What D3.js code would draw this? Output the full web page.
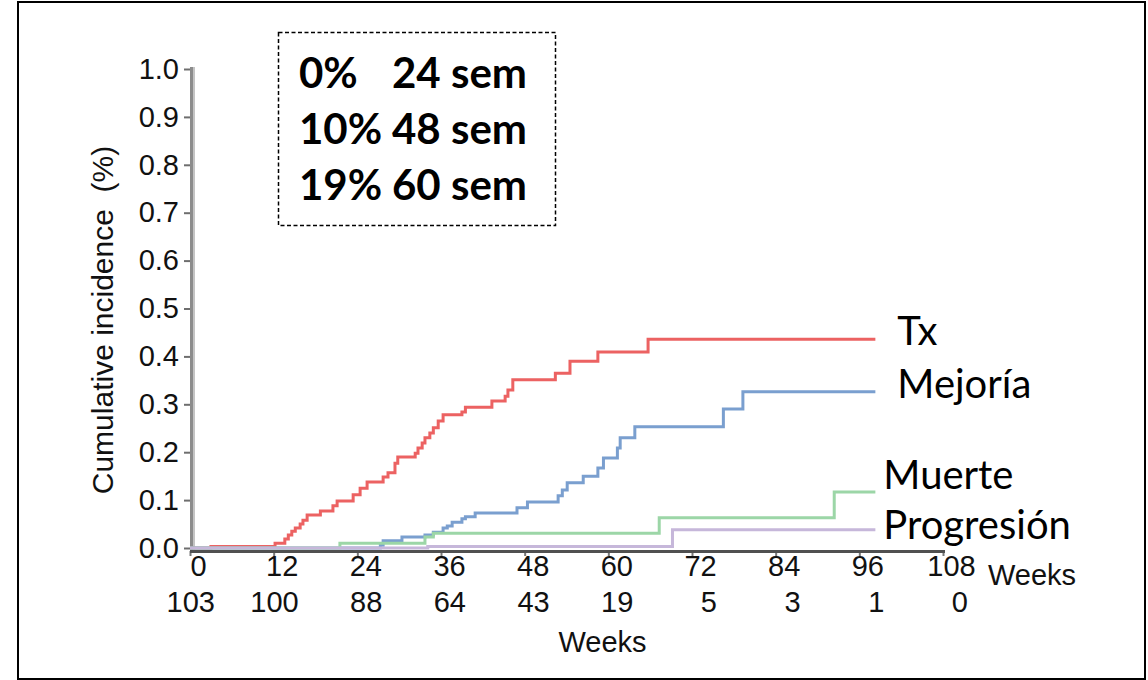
<!DOCTYPE html>
<html>
<head>
<meta charset="utf-8">
<script src="https://cdn.jsdelivr.net/npm/d3@7"></script>
<style>
  html, body { margin: 0; padding: 0; background: #fff; }
  svg { display: block; }
</style>
</head>
<body>
<svg id="chart" width="1148" height="680"></svg>
<script>
// Weeks on the x axis and patients still at risk under each tick
const weekTicks = [0, 12, 24, 36, 48, 60, 72, 84, 96, 108];
const atRisk = [103, 100, 88, 64, 43, 19, 5, 3, 1, 0];
const incidenceTicks = [0, 0.1, 0.2, 0.3, 0.4, 0.5, 0.6, 0.7, 0.8, 0.9, 1.0];

// Cumulative incidence step curves: [week, incidence]
const txSteps = [
  [0, 0], [3, 0.003], [12.2, 0.010], [13.6, 0.019], [14.1, 0.027], [14.6, 0.035],
  [15.1, 0.042], [15.8, 0.050], [16.2, 0.058], [16.8, 0.069], [18.7, 0.077],
  [20.5, 0.088], [21.1, 0.098], [23.4, 0.111], [24.4, 0.125], [25.4, 0.138],
  [27.7, 0.148], [28.4, 0.157], [29.4, 0.177], [29.8, 0.190], [32.3, 0.198],
  [32.7, 0.209], [33.3, 0.219], [33.7, 0.230], [34.4, 0.240], [34.9, 0.251],
  [35.6, 0.265], [36.3, 0.278], [39.0, 0.284], [39.5, 0.294], [43.3, 0.307],
  [45.2, 0.317], [45.6, 0.330], [46.3, 0.351], [52.4, 0.365], [54.5, 0.390],
  [58.5, 0.409], [65.7, 0.436], [98.3, 0.436]
];
const mejoriaSteps = [
  [0, 0], [27.3, 0.006], [27.7, 0.015], [30.4, 0.023], [33.7, 0.027], [34.9, 0.033],
  [36.3, 0.042], [36.9, 0.046], [37.6, 0.054], [39.0, 0.061], [39.5, 0.065],
  [40.9, 0.073], [46.9, 0.084], [48.4, 0.096], [52.8, 0.109], [53.4, 0.121],
  [54.1, 0.136], [56.4, 0.150], [58.5, 0.167], [59.3, 0.188], [61.3, 0.209],
  [61.7, 0.230], [63.8, 0.253], [76.5, 0.290], [79.3, 0.326], [98.3, 0.326]
];
const muerteSteps = [
  [0, 0], [21.5, 0.010], [33.7, 0.023], [34.9, 0.031], [67.3, 0.063],
  [92.4, 0.117], [98.3, 0.117]
];
const progresionSteps = [
  [0, 0], [34.1, 0.003], [69.2, 0.038], [98.3, 0.038]
];

const seriesNames = ["Tx", "Mejoría", "Muerte", "Progresión"];
const seriesColors = ["#ec6262", "#7a9fcf", "#9cd6a7", "#c6b7da"];
const seriesData = [txSteps, mejoriaSteps, muerteSteps, progresionSteps];
// label offsets from each curve's last point
const labelDx = [22, 22, 8, 8];
const labelDy = [6, 6, -3, 9];

// Summary box lines
const boxLeft = ["0%", "10%", "19%"];
const boxRight = ["24 sem", "48 sem", "60 sem"];

const svg = d3.select("#chart");

// outer frame
svg.append("rect")
  .attr("x", 18).attr("y", 2).attr("width", 1127).attr("height", 677)
  .attr("fill", "none").attr("stroke", "#000").attr("stroke-width", 2);

const x = d3.scaleLinear().domain([0, 108]).range([190, 943]);
const y = d3.scaleLinear().domain([0, 1]).range([548, 69]);

const tickFont = "'Liberation Sans', Arial, sans-serif";

// y axis
const yAxis = d3.axisLeft(y)
  .tickValues(incidenceTicks)
  .tickFormat(d3.format(".1f"))
  .tickSize(6)
  .tickPadding(5);
const gy = svg.append("g").attr("transform", "translate(190,0)").call(yAxis);
gy.select(".domain").remove();
gy.selectAll(".tick line").attr("stroke", "#6e6e6e").attr("stroke-width", 2);
gy.selectAll(".tick text")
  .attr("font-family", tickFont).attr("font-size", 29).attr("fill", "#111");
svg.append("line")
  .attr("x1", 191.5).attr("x2", 191.5).attr("y1", 67).attr("y2", 553)
  .attr("stroke", "#8c8c8c").attr("stroke-width", 3);
svg.append("line")
  .attr("x1", 194).attr("x2", 194).attr("y1", 67).attr("y2", 550)
  .attr("stroke", "#c4c4c4").attr("stroke-width", 2);

// x axis
const xAxis = d3.axisBottom(x)
  .tickValues(weekTicks)
  .tickFormat(d3.format("d"))
  .tickSize(5)
  .tickPadding(4);
const gx = svg.append("g").attr("transform", "translate(0,551)").call(xAxis);
gx.select(".domain").remove();
gx.selectAll(".tick line").attr("stroke", "#777").attr("stroke-width", 2);
gx.selectAll(".tick text")
  .attr("font-family", tickFont).attr("font-size", 29).attr("fill", "#111")
  .attr("dx", 8).attr("dy", "0.55em");
svg.append("line")
  .attr("x1", x(0)).attr("x2", x(108) + 2).attr("y1", 551.5).attr("y2", 551.5)
  .attr("stroke", "#505050").attr("stroke-width", 3);

// "Weeks" beside the last tick
svg.append("text")
  .attr("x", x(108) + 45).attr("y", 585)
  .attr("font-family", tickFont).attr("font-size", 29).attr("fill", "#111")
  .text("Weeks");

// numbers at risk
svg.append("g").selectAll("text")
  .data(weekTicks)
  .join("text")
  .attr("x", d => x(d) + 25)
  .attr("y", 612)
  .attr("text-anchor", "end")
  .attr("font-family", tickFont).attr("font-size", 29).attr("fill", "#111")
  .text((d, i) => atRisk[i]);

// axis titles
svg.append("text")
  .attr("x", x(54) + 36).attr("y", 652)
  .attr("text-anchor", "middle")
  .attr("font-family", tickFont).attr("font-size", 29).attr("fill", "#111")
  .text("Weeks");
svg.append("text")
  .attr("transform", "translate(102,320) rotate(-90)")
  .attr("text-anchor", "middle")
  .attr("dominant-baseline", "central")
  .attr("font-family", tickFont).attr("font-size", 30).attr("fill", "#111")
  .attr("xml:space", "preserve")
  .text("Cumulative incidence  (%)");

// step curves
const line = d3.line()
  .x(d => x(d[0]))
  .y(d => y(d[1]))
  .curve(d3.curveStepAfter);

svg.append("g").selectAll("path")
  .data(seriesData)
  .join("path")
  .attr("d", line)
  .attr("fill", "none")
  .attr("stroke", (d, i) => seriesColors[i])
  .attr("stroke-width", 3);

// curve labels
svg.append("g").selectAll("text")
  .data(seriesData)
  .join("text")
  .attr("x", (d, i) => x(d[d.length - 1][0]) + labelDx[i])
  .attr("y", (d, i) => y(d[d.length - 1][1]) + labelDy[i])
  .attr("font-family", "Lato, 'Open Sans', sans-serif")
  .attr("font-size", 40)
  .attr("fill", "#000")
  .text((d, i) => seriesNames[i]);

// summary box
svg.append("rect")
  .attr("x", 278.5).attr("y", 32.5).attr("width", 277).attr("height", 193)
  .attr("fill", "#fff").attr("stroke", "#000").attr("stroke-width", 1.5)
  .attr("stroke-dasharray", "4,2.5");
const boxText = svg.append("g")
  .attr("font-family", "Lato, 'Open Sans', sans-serif")
  .attr("font-weight", "bold").attr("font-size", 42).attr("fill", "#000");
boxLeft.forEach((t, i) => {
  boxText.append("text").attr("x", 299).attr("y", 88 + i * 56).text(t);
  boxText.append("text").attr("x", 392).attr("y", 88 + i * 56).text(boxRight[i]);
});
</script>
</body>
</html>
